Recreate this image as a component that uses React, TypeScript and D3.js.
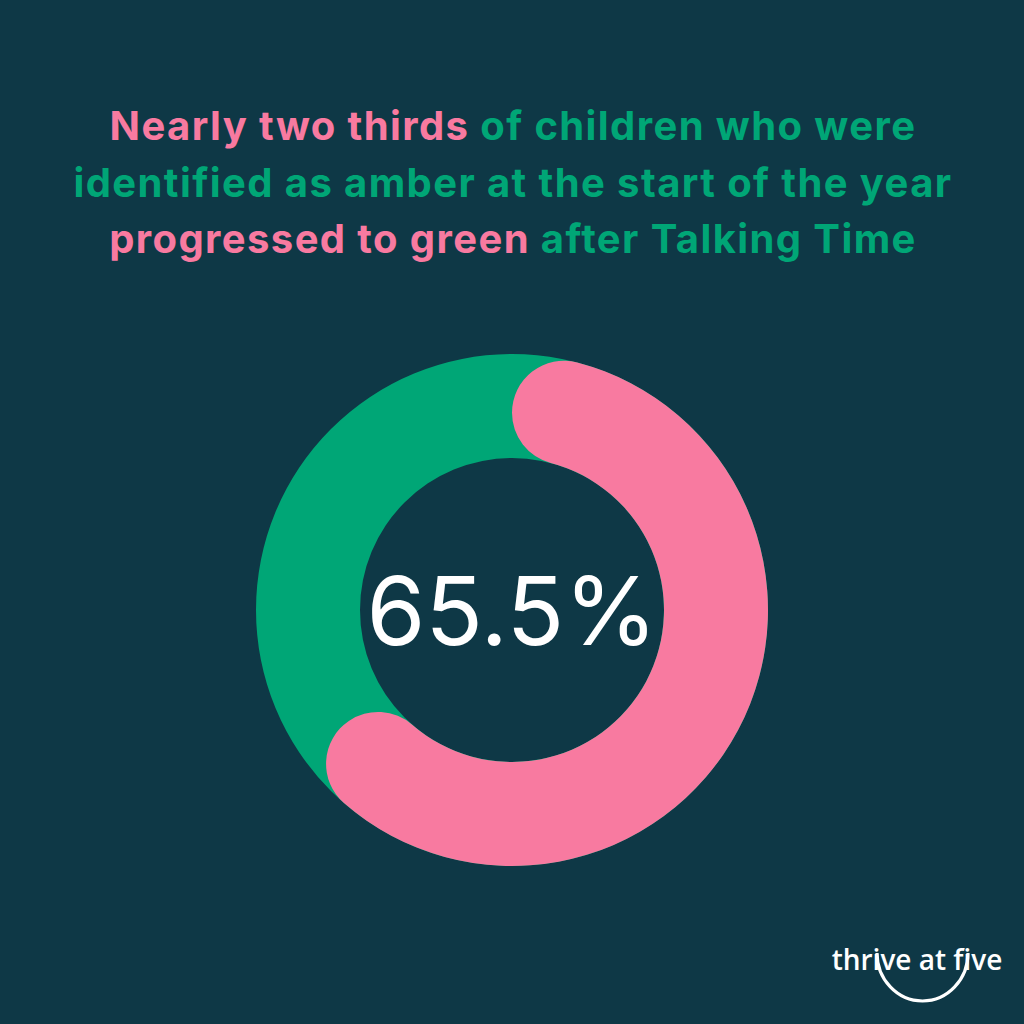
import React from "react";
import * as d3 from "d3";

const categories = ["Progressed to green", "Did not progress"];
const values = [65.5, 34.5];
const centerLabel = "65.5%";
const titleLines: { text: string; pink: boolean }[][] = [
  [
    { text: "Nearly two thirds", pink: true },
    { text: " of children who were", pink: false },
  ],
  [{ text: "identified as amber at the start of the year", pink: false }],
  [
    { text: "progressed to green", pink: true },
    { text: " after Talking Time", pink: false },
  ],
];

const BG = "#0e3846";
const GREEN = "#00a676";
const PINK = "#f87aa0";

export default function App() {
  const W = 1024;
  const H = 1024;
  const cx = 512;
  const cy = 610;
  const outerR = 256;
  const innerR = 152;
  const total = d3.sum(values);
  const angle = d3.scaleLinear().domain([0, total]).range([0, 2 * Math.PI]);

  const ring = d3.arc<any>().innerRadius(innerR).outerRadius(outerR)({
    startAngle: 0,
    endAngle: 2 * Math.PI,
  } as any) as string;
  const pinkArc = d3
    .arc<any>()
    .innerRadius(innerR)
    .outerRadius(outerR)
    .cornerRadius((outerR - innerR) / 2)({
    startAngle: angle(0),
    endAngle: angle(values[0]),
  } as any) as string;

  const titleFont = "Inter, 'Noto Sans', sans-serif";

  return (
    <svg
      width={W}
      height={H}
      style={{ position: "absolute", left: 0, top: 0, display: "block" }}
    >
      <rect x={0} y={0} width={W} height={H} fill={BG} />
      {titleLines.map((line, i) => (
        <text
          key={i}
          x={513}
          y={140 + i * 56.5}
          textAnchor="middle"
          fontFamily={titleFont}
          fontWeight={700}
          fontSize={40}
          letterSpacing={1.4}
        >
          {line.map((seg, j) => (
            <tspan key={j} fill={seg.pink ? PINK : GREEN}>
              {seg.text}
            </tspan>
          ))}
        </text>
      ))}
      <g transform={`translate(${cx},${cy})`}>
        <path d={ring} fill={GREEN}>
          <title>{categories[1]}</title>
        </path>
        <path d={pinkArc} fill={PINK}>
          <title>{categories[0]}</title>
        </path>
        <text
          x={0}
          y={35}
          textAnchor="middle"
          fill="#ffffff"
          fontFamily="Inter, 'Noto Sans', sans-serif"
          fontWeight={400}
          fontSize={95}
        >
          {centerLabel}
        </text>
      </g>
      <g>
        <text
          x={917}
          y={970}
          textAnchor="middle"
          fill="#ffffff"
          fontFamily="'Open Sans', sans-serif"
          fontWeight={600}
          fontSize={28}
        >
          thrive at five
        </text>
        <path
          d="M 877,953 A 45.5 48 0 0 0 968,953"
          fill="none"
          stroke="#ffffff"
          strokeWidth={3.2}
        />
      </g>
    </svg>
  );
}
